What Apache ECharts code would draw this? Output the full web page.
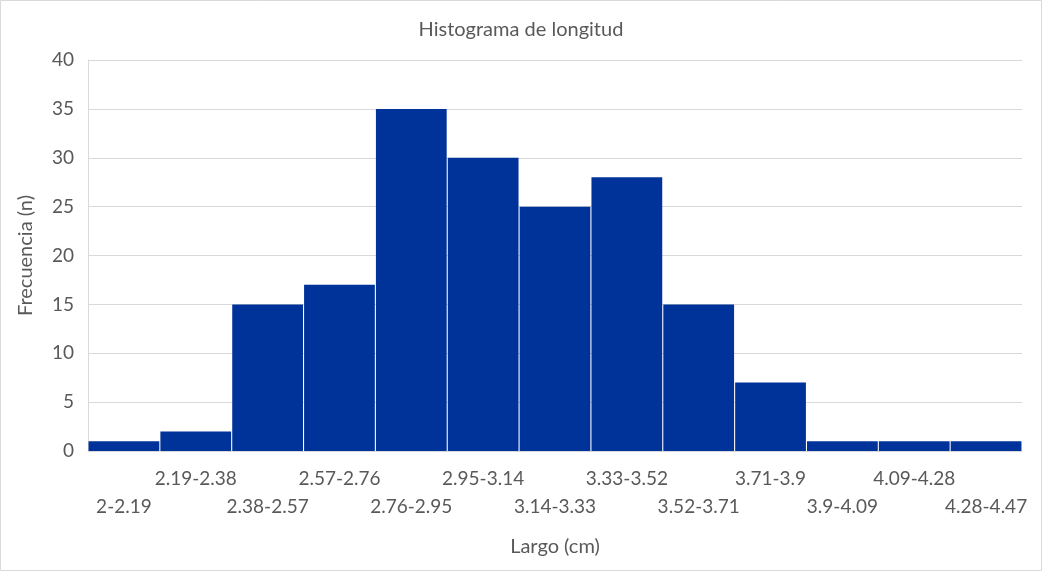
<!DOCTYPE html>
<html>
<head>
<meta charset="utf-8">
<script src="https://cdn.jsdelivr.net/npm/echarts@6/dist/echarts.min.js"></script>
<style>
  html, body { margin: 0; padding: 0; background: #fff; }
  #main { width: 1042px; height: 571px; }
</style>
</head>
<body>
<div id="main"></div>
<script>
// clases de longitud (cm) y frecuencias
const categories = ['2-2.19', '2.19-2.38', '2.38-2.57', '2.57-2.76', '2.76-2.95', '2.95-3.14',
  '3.14-3.33', '3.33-3.52', '3.52-3.71', '3.71-3.9', '3.9-4.09', '4.09-4.28', '4.28-4.47'];
const frecuencias = [1, 2, 15, 17, 35, 30, 25, 28, 15, 7, 1, 1, 1];

const textColor = '#595959';
const lineColor = '#d9d9d9';
const font = 'Lato, "Noto Sans", sans-serif';

const chart = echarts.init(document.getElementById('main'));

const option = {
  animation: false,
  textStyle: { fontFamily: font },
  title: {
    text: 'Histograma de longitud',
    left: 'center',
    top: 15,
    textStyle: { color: textColor, fontSize: 20, fontWeight: 'normal', fontFamily: font }
  },
  graphic: [{
    type: 'rect',
    shape: { x: 0.5, y: 0.5, width: 1041, height: 570 },
    style: { fill: 'none', stroke: lineColor, lineWidth: 1 }
  }],
  grid: { left: 88, right: 20, top: 60, bottom: 120 },
  xAxis: {
    type: 'category',
    data: categories,
    name: 'Largo (cm)',
    nameLocation: 'middle',
    nameGap: 86,
    nameTextStyle: { color: textColor, fontSize: 20, fontFamily: font },
    axisLine: { lineStyle: { color: lineColor } },
    axisTick: { show: false },
    axisLabel: {
      interval: 0,
      margin: 14,
      color: textColor,
      fontSize: 19,
      lineHeight: 28,
      fontFamily: font,
      formatter: function (v, i) {
        return i % 2 === 0 ? '\n' + v : v;
      }
    }
  },
  yAxis: {
    type: 'value',
    min: 0,
    max: 40,
    interval: 5,
    name: 'Frecuencia (n)',
    nameLocation: 'middle',
    nameGap: 52,
    nameTextStyle: { color: textColor, fontSize: 20, fontFamily: font },
    axisLine: { show: true, lineStyle: { color: lineColor } },
    axisTick: { show: false },
    splitLine: { lineStyle: { color: lineColor } },
    axisLabel: { color: textColor, fontSize: 19, margin: 14, fontFamily: font }
  },
  series: [{
    type: 'bar',
    data: frecuencias,
    barCategoryGap: '1.5%',
    itemStyle: { color: '#003399' }
  }]
};

chart.setOption(option);
</script>
</body>
</html>
